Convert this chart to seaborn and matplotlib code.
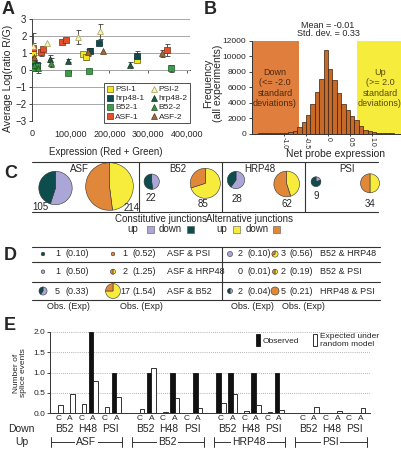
import matplotlib
matplotlib.use("Agg")
import matplotlib.pyplot as plt
import matplotlib.transforms as mtransforms
from matplotlib.patches import Wedge, Rectangle, Patch
import numpy as np
import pandas as pd
import seaborn as sns

W, H = 401, 449

# ---------------- panel A: expression (x1000), average log ratio, error ----------------
psi1_x = [3, 5, 132, 139, 270]
psi1_y = [1.0, 0.1, 0.95, 0.77, 0.62]
psi1_e = [0, 0, 0, 0.15, 0.15]
hrp1_x = [2, 12, 151, 173, 270]
hrp1_y = [0.4, 0.3, 1.15, 1.62, 0.85]
hrp1_e = [0.3, 0, 0.15, 0, 0.3]
b52_1_x = [3, 14, 94, 148, 358]
b52_1_y = [0.1, 0.25, -0.18, -0.03, 0.12]
b52_1_e = [0.1, 0, 0, 0, 0.2]
asf1_x = [3, 24, 29, 78, 87, 348]
asf1_y = [1.3, 1.05, 1.25, 1.65, 1.8, 1.2]
asf1_e = [0.3, 0.2, 0, 0, 0, 0.35]
psi2_x = [2, 38, 120, 175]
psi2_y = [1.45, 1.6, 1.95, 2.3]
psi2_e = [0.75, 0, 0.4, 0.45]
hrp2_x = [5, 46, 94, 253]
hrp2_y = [0.7, 0.68, 0.55, 0.31]
hrp2_e = [0.2, 0.2, 0.08, 0.15]
b52_2_x = [2, 6, 16, 48]
b52_2_y = [0.6, 0.3, 0.15, 0.45]
b52_2_e = [0.3, 0, 0.3, 0.25]
asf2_x = [4, 145, 183, 335]
asf2_y = [0.75, 1.05, 1.12, 1.0]
asf2_e = [0, 0.2, 0, 0.2]
a_xticks = [0, 100000, 200000, 300000, 400000]
a_xticklabels = ["0", "100,000", "200,000", "300,000", "400,000"]

# ---------------- panel B: histogram of net probe expression ----------------
b_edges = [round(-1.7 + 0.1 * i, 2) for i in range(34)]
b_counts = [10, 15, 20, 30, 40, 55, 70, 100, 150, 300, 900, 1550, 2400, 3900, 5400,
            7050, 10800, 8400, 6900, 5300, 3900, 3000, 2300, 1700, 1000, 500, 300,
            200, 120, 80, 50, 20, 10]
b_mean, b_sd = -0.01, 0.33

# ---------------- panel C: junction pies ----------------
c_groups = ["ASF", "B52", "HRP48", "PSI"]
c_const_n = [105, 22, 28, 9]
c_const_up = [0.55, 0.48, 0.6, 0.2]
c_alt_n = [214, 85, 62, 34]
c_alt_up = [0.48, 0.7, 0.45, 0.5]

# ---------------- panel D: pairwise overlaps ----------------
d_pairs_left = ["ASF & PSI", "ASF & HRP48", "ASF & B52"]
d_const_obs_left = [1, 1, 5]
d_const_exp_left = ["0.10", "0.50", "0.33"]
d_const_up_left = [0.0, 1.0, 0.6]
d_alt_obs_left = [1, 2, 17]
d_alt_exp_left = ["0.52", "1.25", "1.54"]
d_alt_up_left = [0.0, 0.5, 0.75]
d_pairs_right = ["B52 & HRP48", "B52 & PSI", "HRP48 & PSI"]
d_const_obs_right = [2, 0, 2]
d_const_exp_right = ["0.10", "0.01", "0.04"]
d_const_up_right = [1.0, 0.0, 0.5]
d_alt_obs_right = [3, 2, 5]
d_alt_exp_right = ["0.56", "0.19", "0.21"]
d_alt_up_right = [0.67, 0.5, 0.0]

# ---------------- panel E: observed vs expected splice events ----------------
e_up = ["ASF", "B52", "HRP48", "PSI"]
e_down = ["B52", "H48", "PSI"]
e_kind = ["C", "A"]
e_observed = [0, 0, 0, 2, 0, 1,
              0, 1, 0, 1, 0, 1,
              1, 1, 0, 1, 0, 1,
              0, 0, 0, 0, 0, 0]
e_expected = [0.20, 0.47, 0.22, 0.78, 0.15, 0.40,
              0.10, 1.10, 0.03, 0.37, 0.01, 0.13,
              0.25, 0.48, 0.05, 0.20, 0.03, 0.07,
              0.01, 0.15, 0.01, 0.05, 0.01, 0.12]

# colours
LAV, TEAL, YEL, ORA = "#aaa7d8", "#0d4d4d", "#f7ec3c", "#e0873a"

sns.set_theme(style="white")
plt.rcParams["font.family"] = ["Liberation Sans", "DejaVu Sans"]

fig = plt.figure(figsize=(W / 100, H / 100), dpi=100)


def px_axes(l, t, r, b):
    return fig.add_axes([l / W, 1 - b / H, (r - l) / W, (b - t) / H])


# ================= A =================
axa = px_axes(32, 19.3, 190, 121)
a_series = [
    ("PSI-1", psi1_x, psi1_y, psi1_e, "s", "#f3e41c", "#6b6420", 14),
    ("hrp48-1", hrp1_x, hrp1_y, hrp1_e, "s", "#0f4a4f", "#082a2a", 14),
    ("B52-1", b52_1_x, b52_1_y, b52_1_e, "s", "#3f9a4c", "#1c5a25", 14),
    ("ASF-1", asf1_x, asf1_y, asf1_e, "s", "#e2512c", "#7a2a14", 14),
    ("PSI-2", psi2_x, psi2_y, psi2_e, "^", "#f8f3c6", "#a79a4a", 18),
    ("hrp48-2", hrp2_x, hrp2_y, hrp2_e, "^", "#1f5b3c", "#0e3020", 18),
    ("B52-2", b52_2_x, b52_2_y, b52_2_e, "^", "#3d8e3d", "#1e4f1e", 18),
    ("ASF-2", asf2_x, asf2_y, asf2_e, "^", "#a0683a", "#5a3a1e", 18),
]
for name, xs, ys, es, mk, fc, ec, size in a_series:
    xs = np.array(xs) * 1000
    ys = np.array(ys)
    es = np.array(es)
    m = es > 0
    if m.any():
        axa.errorbar(xs[m], ys[m], yerr=es[m], fmt="none", ecolor="#3a3a3a",
                     elinewidth=0.6, capsize=1.8, capthick=0.6, zorder=2)
    sns.scatterplot(x=xs, y=ys, marker=mk, s=size, color=fc, edgecolor=ec,
                    linewidth=0.5, label=name, ax=axa, zorder=3)
axa.set_xlim(0, 408000)
axa.set_ylim(-3, 3)
axa.set_yticks(range(-3, 4))
axa.set_xticks(a_xticks)
axa.set_xticklabels(a_xticklabels)
axa.grid(axis="y", color="#a6a6a6", lw=0.7)
axa.grid(axis="x", visible=False)
for s in ["top", "right", "bottom"]:
    axa.spines[s].set_visible(False)
axa.spines["left"].set_color("#444444")
axa.spines["left"].set_linewidth(0.7)
axa.tick_params(axis="x", length=0, pad=6, labelsize=6.5)
axa.tick_params(axis="y", left=True, length=2, width=0.6, pad=2, labelsize=7)
sec = axa.secondary_xaxis(0.499)
sec.set_xticks(a_xticks)
sec.set_xticklabels([])
sec.tick_params(bottom=True, length=2, width=0.6, color="#444444")
sec.spines["bottom"].set_color("#444444")
sec.spines["bottom"].set_linewidth(0.7)
leg = axa.legend(ncol=2, loc="lower right", bbox_to_anchor=(1.0, -0.02), fontsize=6,
                 frameon=True, fancybox=False, edgecolor="#333333", framealpha=1,
                 handletextpad=0.1, columnspacing=0.6, borderpad=0.3,
                 labelspacing=0.15, handlelength=1.0, borderaxespad=0)
leg.get_frame().set_linewidth(0.6)

# ================= B =================
axb = px_axes(252, 41, 401, 133.6)
axb.axvspan(-1.73, b_mean - 2 * b_sd, color="#e07e3e", lw=0, zorder=0)
axb.axvspan(b_mean + 2 * b_sd, 1.66, color="#f6ec3c", lw=0, zorder=0)
b_centers = [(lo + hi) / 2 for lo, hi in zip(b_edges[:-1], b_edges[1:])]
df_b = pd.DataFrame({"net": b_centers, "count": b_counts})
sns.histplot(data=df_b, x="net", weights="count", bins=b_edges, color="#c76a28",
             edgecolor="#3a200e", linewidth=0.5, alpha=1, ax=axb, zorder=2)
axb.set_xlim(-1.73, 1.66)
axb.set_ylim(0, 12000)
axb.set_yticks(range(0, 12001, 2000))
axb.set_xticks([-1.0, -0.5, 0, 0.5, 1.0])
axb.set_xticklabels(["-1.0", "-0.5", "0", "0.5", "1.0"], rotation=270)
axb.set_xlabel("")
axb.set_ylabel("")
for s in ["top", "right"]:
    axb.spines[s].set_visible(False)
for s in ["left", "bottom"]:
    axb.spines[s].set_color("#333333")
    axb.spines[s].set_linewidth(0.7)
axb.tick_params(axis="y", left=True, length=2.5, width=0.6, pad=1.5, labelsize=6)
axb.tick_params(axis="x", bottom=True, length=1.5, width=0.6, pad=0.8, labelsize=5)

# ================= E =================
axe = px_axes(50, 331.7, 370, 413.3)
cats, series, vals = [], [], []
order = []
k = 0
for g, up in enumerate(e_up):
    for d in e_down:
        for kind in e_kind:
            cname = f"{up}|{d}|{kind}"
            order.append(cname)
            cats += [cname, cname]
            series += ["Observed", "Expected under\nrandom model"]
            vals += [e_observed[k], e_expected[k]]
            k += 1
    if g < len(e_up) - 1:
        order.append(f"gap{g}")
df_e = pd.DataFrame({"slot": cats, "series": series, "value": vals})
sns.barplot(data=df_e, x="slot", y="value", hue="series", order=order,
            hue_order=["Observed", "Expected under\nrandom model"],
            palette=["#111111", "white"], edgecolor="#111111", linewidth=0.6,
            width=0.8, ax=axe, legend=False)
axe.set_xlim(-0.71, 26.8)
axe.set_ylim(0, 2.0)
axe.set_yticks([0, 0.5, 1.0, 1.5, 2.0])
axe.set_yticklabels(["0.0", "0.5", "1.0", "1.5", "2.0"])
axe.set_xticks(range(len(order)))
axe.set_xticklabels([o.split("|")[2] if "|" in o else "" for o in order])
axe.set_xlabel("")
axe.set_ylabel("")
axe.grid(axis="y", color="#9a9a9a", lw=0.6, ls=(0, (1, 1.5)))
for s in ["top", "right"]:
    axe.spines[s].set_visible(False)
for s in ["left", "bottom"]:
    axe.spines[s].set_color("#333333")
    axe.spines[s].set_linewidth(0.7)
axe.tick_params(axis="y", left=True, length=2, width=0.6, pad=1.5, labelsize=6)
axe.tick_params(axis="x", length=0, pad=1, labelsize=6)
axe.legend(handles=[Patch(fc="#111111", ec="#111111", lw=0.6),
                    Patch(fc="white", ec="#111111", lw=0.6)],
           labels=["Observed", "Expected under\nrandom model"], ncol=2,
           loc="upper right", bbox_to_anchor=(1.04, 1.03), frameon=False,
           fontsize=6, handlelength=0.5, handleheight=2.0, handletextpad=0.4,
           columnspacing=1.6, borderaxespad=0)

# ================= overlay (pixel coords) =================
ax0 = fig.add_axes([0, 0, 1, 1])
ax0.set_xlim(0, W)
ax0.set_ylim(H, 0)
ax0.axis("off")
ax0.patch.set_alpha(0)


def t(x, y, s, **kw):
    kw.setdefault("fontsize", 7)
    kw.setdefault("ha", "center")
    kw.setdefault("va", "center")
    ax0.text(x, y, s, **kw)


def pie(cx, cy, n, f_up, up_col, down_col, k):
    if n <= 0:
        return
    r = k * np.sqrt(n)
    a = 270 + 360 * f_up
    if f_up > 0:
        ax0.add_patch(Wedge((cx, cy), r, 270, a, fc=up_col, ec="#333333", lw=0.4))
    if f_up < 1:
        ax0.add_patch(Wedge((cx, cy), r, a, 630, fc=down_col, ec="#333333", lw=0.4))


# panel letters
for letter, x, y in [("A", 2, 9), ("B", 204, 9), ("C", 4, 174), ("D", 4, 256), ("E", 4, 325)]:
    t(x, y, letter, fontsize=13, fontweight="bold", ha="left")

# A labels
t(106, 152, "Expression (Red + Green)", fontsize=7)
t(8, 78, "Average Log(ratio R/G)", fontsize=7.5, rotation=90)

# B labels
t(328, 25.5, "Mean = -0.01", fontsize=6.5)
t(328, 33.5, "Std. dev. = 0.33", fontsize=6.5)
t(213, 83, "Frequency\n(all experiments)", fontsize=7.5, rotation=90, linespacing=1.0)
t(335, 154, "Net probe expression", fontsize=7.5)
t(275, 88, "Down\n(<= -2.0\nstandard\ndeviations)", fontsize=6.5, color="#4a2a10", linespacing=1.15)
t(380, 88, "Up\n(>= 2.0\nstandard\ndeviations)", fontsize=6.5, color="#5a4a10", linespacing=1.15)

# C frame
ax0.plot([32, 378], [161.7, 161.7], color="#333333", lw=0.8)
ax0.plot([32, 378], [211.7, 211.7], color="#333333", lw=0.8)
for xv in [139, 222, 305]:
    ax0.plot([xv, xv], [161.7, 211.7], color="#333333", lw=0.8)
c_const_xy = [(55.5, 188), (151.7, 181.7), (236, 180), (316, 181.7)]
c_alt_xy = [(109.5, 186.5), (205.3, 183.3), (286.7, 184), (370, 183.3)]
c_name_xy = [(79, 169), (178, 169), (260, 169), (347, 169)]
c_const_lab = [(40, 207), (150.7, 198), (236.7, 199), (316.7, 196)]
c_alt_lab = [(131.7, 208), (203, 204), (286.7, 204), (370, 204)]
for i, g in enumerate(c_groups):
    pie(*c_const_xy[i], c_const_n[i], c_const_up[i], LAV, TEAL, 1.63)
    pie(*c_alt_xy[i], c_alt_n[i], c_alt_up[i], YEL, ORA, 1.63)
    t(*c_name_xy[i], g, fontsize=7)
    t(*c_const_lab[i], str(c_const_n[i]), fontsize=7)
    t(*c_alt_lab[i], str(c_alt_n[i]), fontsize=7)
t(161, 219.5, "Constitutive junctions", fontsize=7)
t(250, 219.5, "Alternative junctions", fontsize=7)
for lx, txt in [(133, "up"), (170, "down"), (222, "up"), (257, "down")]:
    t(lx, 229.5, txt, fontsize=7)
for sx, col in [(147, LAV), (187, TEAL), (233, YEL), (273, ORA)]:
    ax0.add_patch(Rectangle((sx, 226), 6.5, 6.5, fc=col, ec="#555555", lw=0.4))

# D table
for yv in [246.7, 261.7, 281.7, 300]:
    ax0.plot([32, 380], [yv, yv], color="#333333", lw=0.8)
ax0.plot([221.7, 221.7], [246.7, 300], color="#333333", lw=0.8)
d_rows_y = [254, 271.7, 291]
for i, yv in enumerate(d_rows_y):
    pie(43, yv, d_const_obs_left[i], d_const_up_left[i], LAV, TEAL, 1.8)
    t(57.5, yv, str(d_const_obs_left[i]), fontsize=6.5)
    t(77.5, yv, f"({d_const_exp_left[i]})", fontsize=6.5)
    pie(113, yv, d_alt_obs_left[i], d_alt_up_left[i], YEL, ORA, 1.8)
    t(125, yv, str(d_alt_obs_left[i]), fontsize=6.5)
    t(144, yv, f"({d_alt_exp_left[i]})", fontsize=6.5)
    t(167, yv, d_pairs_left[i], fontsize=6.5, ha="left")
    pie(230, yv, d_const_obs_right[i], d_const_up_right[i], LAV, TEAL, 1.8)
    t(240, yv, str(d_const_obs_right[i]), fontsize=6.5)
    t(259, yv, f"({d_const_exp_right[i]})", fontsize=6.5)
    pie(275, yv, d_alt_obs_right[i], d_alt_up_right[i], YEL, ORA, 1.8)
    t(283, yv, str(d_alt_obs_right[i]), fontsize=6.5)
    t(301, yv, f"({d_alt_exp_right[i]})", fontsize=6.5)
    t(320, yv, d_pairs_right[i], fontsize=6.5, ha="left")
for ox in [68, 141, 252, 303]:
    t(ox, 306.5, "Obs. (Exp)", fontsize=6.5)

# E labels
t(20, 373, "Number of\nsplice events", fontsize=6, rotation=90, linespacing=1.0)
t(8, 428.5, "Down", fontsize=7.5, ha="left")
t(15, 442, "Up", fontsize=7.5, ha="left")
bt = mtransforms.blended_transform_factory(axe.transData, ax0.transData)
for g, up in enumerate(e_up):
    base = 7 * g
    for j, d in enumerate(e_down):
        ax0.text(base + 2 * j + 0.5, 428.5, d, transform=bt, fontsize=7.5,
                 ha="center", va="center")
    x0, x1 = base - 0.65, base + 5.5
    ax0.plot([x0, x1], [442, 442], color="#333333", lw=0.7, transform=bt)
    ax0.plot([x0, x0], [437, 447], color="#333333", lw=0.7, transform=bt)
    ax0.plot([x1, x1], [437, 447], color="#333333", lw=0.7, transform=bt)
    ax0.text(base + 2.4, 442, up, transform=bt, fontsize=7.5, ha="center",
             va="center", bbox=dict(fc="white", ec="none", pad=1.0))

fig.savefig("out.png", dpi=100)
